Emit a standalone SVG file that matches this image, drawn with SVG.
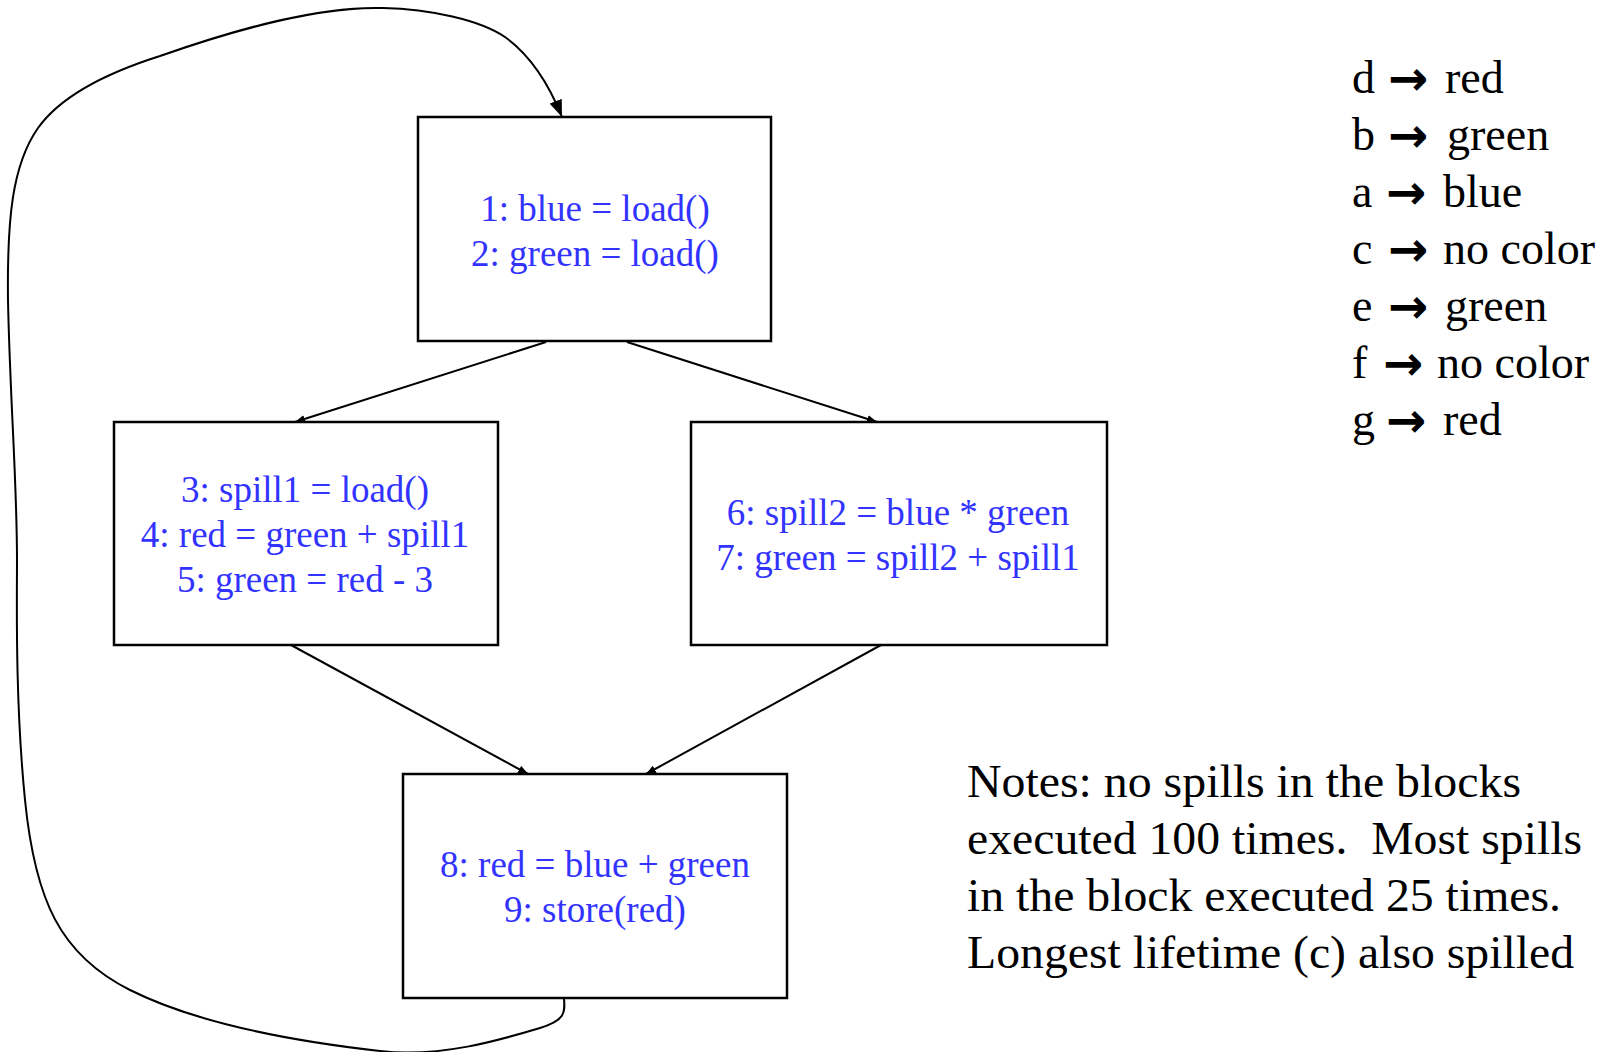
<svg xmlns="http://www.w3.org/2000/svg" width="1611" height="1052" viewBox="0 0 1611 1052">
<style>
.box{fill:#fff;stroke:#000;stroke-width:2.5}
.code{font-family:"Liberation Serif","Times New Roman",serif;font-size:37px;fill:#3333ff;text-anchor:middle}
.edge{fill:none;stroke:#000;stroke-width:2}
.leg{font-family:"Liberation Serif","Times New Roman",serif;font-size:46px;fill:#000}
.arr{font-family:"DejaVu Sans",sans-serif;font-weight:bold;font-size:48px}
.note{font-family:"Liberation Serif","Times New Roman",serif;font-size:46px;fill:#000}
</style>
<defs>
<marker id="ah" viewBox="0 0 10 8" refX="10" refY="4" markerWidth="10" markerHeight="8" orient="auto" markerUnits="userSpaceOnUse"><path d="M0,0 L10,4 L0,8 z" fill="#000"/></marker>
<marker id="ahL" viewBox="0 0 17 13" refX="17" refY="6.5" markerWidth="17" markerHeight="13" orient="auto" markerUnits="userSpaceOnUse"><path d="M0,0 L17,6.5 L0,13 z" fill="#000"/></marker>
</defs>
<rect width="1611" height="1052" fill="#fff"/>
<g id="connectors">
<line class="edge" x1="546" y1="342" x2="295" y2="422" marker-end="url(#ah)"/>
<line class="edge" x1="627" y1="342" x2="877" y2="422" marker-end="url(#ah)"/>
<line class="edge" x1="291" y1="645" x2="528" y2="774" marker-end="url(#ah)"/>
<line class="edge" x1="881" y1="645" x2="646" y2="774" marker-end="url(#ah)"/>
<path class="edge" marker-end="url(#ahL)" d="M564 998 C565 1012 566 1020 540 1028 C500 1040 440 1058 380 1051 C300 1042 200 1025 130 990 C60 955 35 900 25 800 C15 700 17 600 17 560 C17 480 10 400 8 300 C7 220 12 165 38 128 C58 100 100 75 160 56 C240 28 320 6 383 8 C430 9 480 20 505 37 C530 55 548 82 562 117"/>
</g>
<g id="node1">
<rect class="box" x="418" y="117" width="353" height="224"/>
<text class="code" x="595" y="221">1: blue = load()</text>
<text class="code" x="595" y="266">2: green = load()</text>
</g>
<g id="node2">
<rect class="box" x="114" y="422" width="384" height="223"/>
<text class="code" x="305" y="502">3: spill1 = load()</text>
<text class="code" x="305" y="547">4: red = green + spill1</text>
<text class="code" x="305" y="592">5: green = red - 3</text>
</g>
<g id="node3">
<rect class="box" x="691" y="422" width="416" height="223"/>
<text class="code" x="898" y="525">6: spill2 = blue * green</text>
<text class="code" x="898" y="570">7: green = spill2 + spill1</text>
</g>
<g id="node4">
<rect class="box" x="403" y="774" width="384" height="224"/>
<text class="code" x="595" y="877">8: red = blue + green</text>
<text class="code" x="595" y="922">9: store(red)</text>
</g>
<g id="legend">
<text class="leg" y="93"><tspan x="1352">d</tspan><tspan class="arr" x="1388" y="95">→</tspan><tspan x="1445" y="93">red</tspan></text>
<text class="leg" y="150"><tspan x="1352">b</tspan><tspan class="arr" x="1388" y="152">→</tspan><tspan x="1447" y="150">green</tspan></text>
<text class="leg" y="207"><tspan x="1352">a</tspan><tspan class="arr" x="1386" y="209">→</tspan><tspan x="1443" y="207">blue</tspan></text>
<text class="leg" y="264"><tspan x="1352">c</tspan><tspan class="arr" x="1388" y="266">→</tspan><tspan x="1443" y="264">no color</tspan></text>
<text class="leg" y="321"><tspan x="1352">e</tspan><tspan class="arr" x="1388" y="323">→</tspan><tspan x="1445" y="321">green</tspan></text>
<text class="leg" y="378"><tspan x="1352">f</tspan><tspan class="arr" x="1383" y="380">→</tspan><tspan x="1437" y="378">no color</tspan></text>
<text class="leg" y="435"><tspan x="1352">g</tspan><tspan class="arr" x="1386" y="437">→</tspan><tspan x="1443" y="435">red</tspan></text>
</g>
<g id="notes">
<text class="note" x="967" y="797" textLength="554" lengthAdjust="spacingAndGlyphs">Notes: no spills in the blocks</text>
<text class="note" x="967" y="854" textLength="615" lengthAdjust="spacingAndGlyphs" xml:space="preserve">executed 100 times.  Most spills</text>
<text class="note" x="967" y="911" textLength="594" lengthAdjust="spacingAndGlyphs">in the block executed 25 times.</text>
<text class="note" x="967" y="968" textLength="607" lengthAdjust="spacingAndGlyphs">Longest lifetime (c) also spilled</text>
</g>
</svg>
